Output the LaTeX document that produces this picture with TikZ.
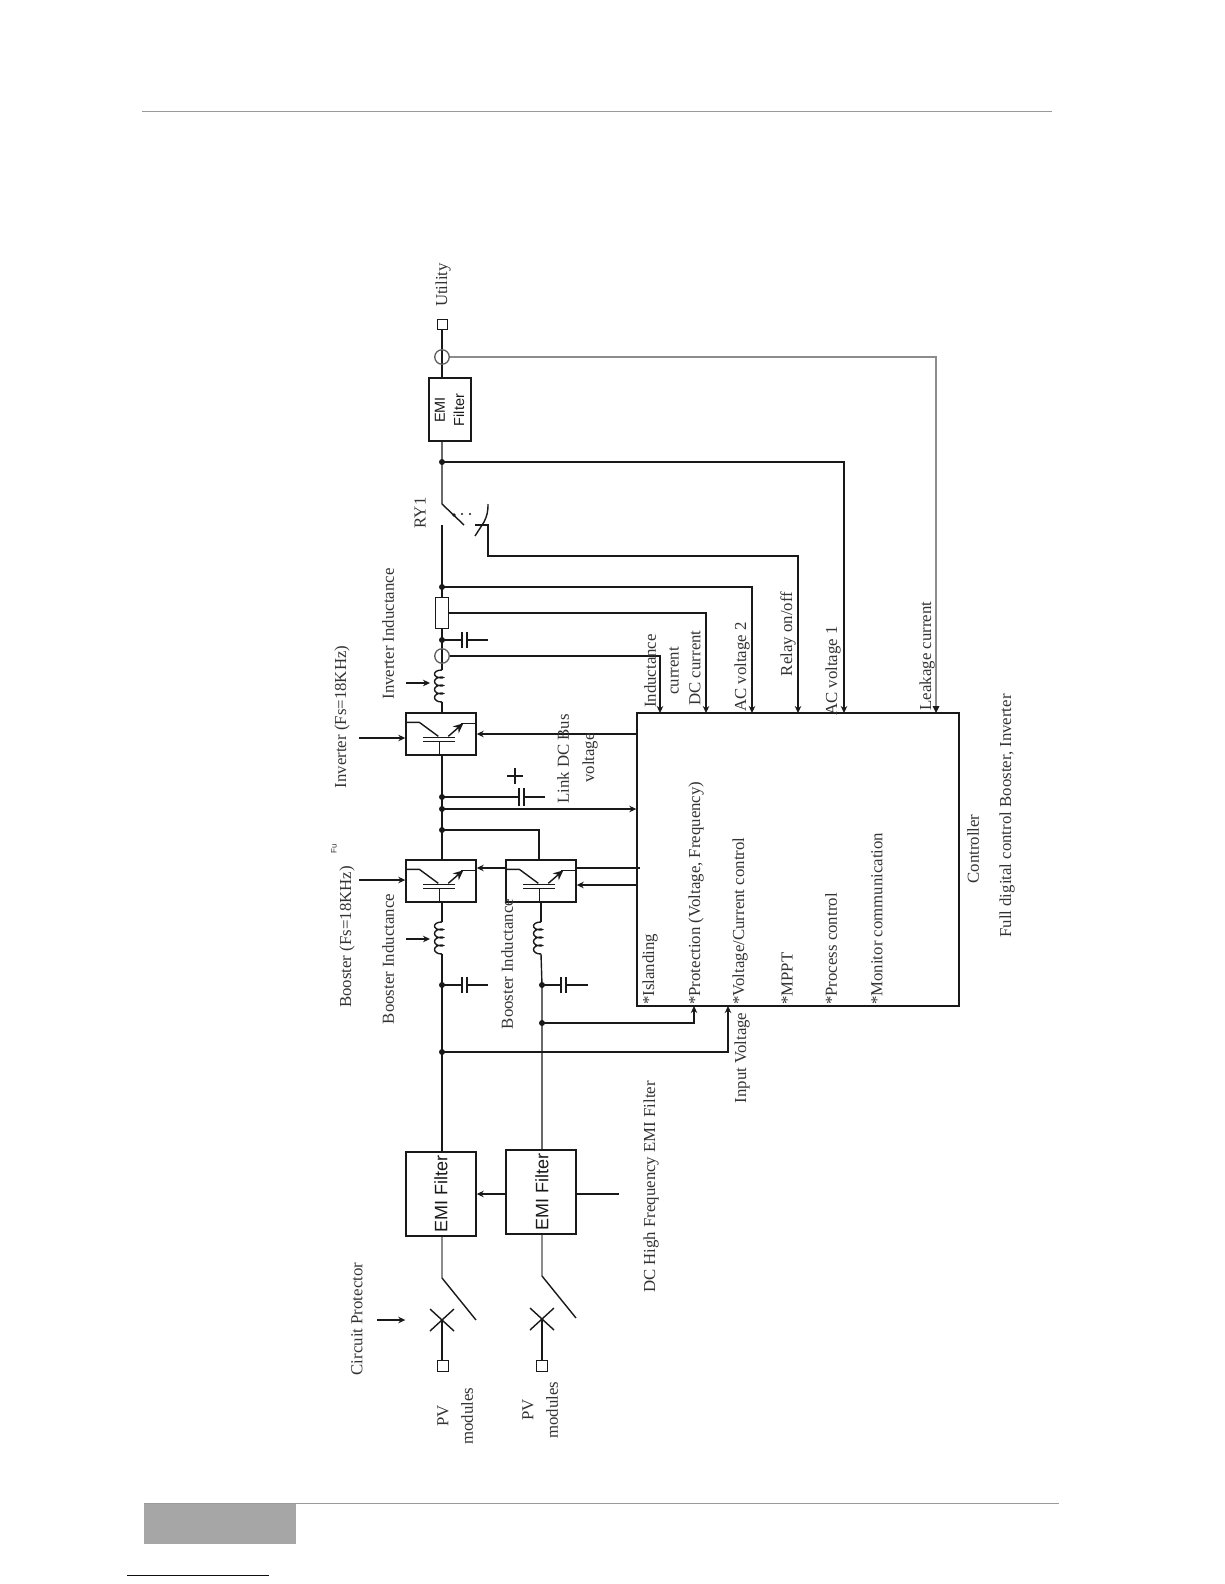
\documentclass[tikz,border=0pt]{standalone}
\usepackage{fontspec}
\setmainfont{Liberation Serif}
\setsansfont{Liberation Sans}
\usetikzlibrary{arrows.meta,calc}
\definecolor{ink}{gray}{0.1}
\definecolor{txt}{gray}{0.2}
\definecolor{greywire}{gray}{0.55}
\tikzset{
  wire/.style={line width=1.4pt,draw=ink},
  gwire/.style={line width=1.5pt,draw=greywire},
  arr/.style={wire,-{Stealth[length=7pt,width=6.5pt]}},
  boxn/.style={draw=ink,line width=1.4pt,inner sep=0pt,fill=white},
  term/.style={boxn,minimum width=10.5pt,minimum height=10.5pt},
  swbox/.style={boxn,minimum width=70pt,minimum height=42pt},
  emibox/.style={boxn,minimum width=70pt,minimum height=84pt},
  lab/.style={rotate=90,inner sep=0pt,text=txt,font=\fontsize{16.8}{18}\selectfont},
  labl/.style={lab,anchor=west},
  emit/.style={rotate=90,inner sep=0pt,text=ink,font=\sffamily\fontsize{18}{20}\selectfont},
  emis/.style={rotate=90,inner sep=0pt,text=ink,font=\sffamily\fontsize{14.5}{16}\selectfont},
  dot/.style={circle,fill=ink,inner sep=0pt,minimum size=6pt},
  ring/.style={circle,draw=ink!70,line width=1.3pt,inner sep=0pt,minimum size=14.5pt},
  pics/transistor/.style={code={
    % coordinates relative to box's upper-left corner
    \draw[wire] (0,10) -- (14,10) -- (33,24);
    \draw[wire] (18,25) -- (50,25);
    \draw[wire] (18,29) -- (50,29);
    \draw[wire] (34,29) -- (34,42);
    \draw[wire,-{Stealth[length=10pt,width=9pt]}] (43,24) -- (58,11);
    \draw[wire] (56,11) -- (70,11);
  }},
  pics/coil/.style={code={
    \draw[wire] (0,0) .. controls (-10,0) and (-10,8) .. (0,8)
      .. controls (1.5,8) and (1.5,7) .. (0,7)
      .. controls (-10,7) and (-10,16) .. (0,16)
      .. controls (1.5,16) and (1.5,15) .. (0,15)
      .. controls (-10,15) and (-10,24) .. (0,24)
      .. controls (1.5,24) and (1.5,23) .. (0,23)
      .. controls (-10,23) and (-10,32) .. (0,32);
  }},
  pics/capr/.style={code={
    \draw[wire] (0,-8) -- (0,8);
    \draw[wire] (5,-8) -- (5,8);
  }}
}
\begin{document}
\begin{tikzpicture}[x=1pt,y=-1pt]
\useasboundingbox (0,0) rectangle (1224,1584);
% page furniture
\fill[gray!70] (144,1503) rectangle (296,1544);
\draw[gray!80,line width=1pt] (142,111.5) -- (1052,111.5);
\draw[gray!80,line width=1pt] (144,1503.5) -- (1059,1503.5);
\draw[blue!50!black,line width=1pt] (127,1575) -- (269,1575);

% === nodes
\node[boxn,minimum width=42pt,minimum height=63pt] (emiS) at (450,409.5) {};
\node[boxn,minimum width=13pt,minimum height=31pt] (res) at (442,613) {};
\node[swbox] (inv) at (441,734) {};
\node[swbox] (boo1) at (441,881) {};
\node[swbox] (boo2) at (541,881) {};
\node[emibox] (emi1) at (441,1194) {};
\node[emibox] (emi2) at (541,1192) {};
\node[boxn,minimum width=322pt,minimum height=293pt] (ctrl) at (798,859.5) {};
\node[term] (util) at (442.5,324.5) {};
\node[term] (pv1) at (443,1366) {};
\node[term] (pv2) at (542,1366) {};

% junctions etc.
\coordinate (ct) at (442,357);
\coordinate (j1) at (442,462);
\coordinate (swA) at (442,504);
\coordinate (swB) at (442,525);
\coordinate (swC) at (464,525);
\coordinate (j2) at (442,587);
\coordinate (j3) at (442,640);
\coordinate (ct2) at (442,656);
\coordinate (lA) at (442,670);
\coordinate (lB) at (442,702);
\coordinate (j4) at (442,797);
\coordinate (j5) at (442,809);
\coordinate (j6) at (442,830);
\coordinate (lC) at (442,922);
\coordinate (lD) at (442,954);
\coordinate (j7) at (442,985);
\coordinate (j8) at (442,1052);
\coordinate (lE) at (541,922);
\coordinate (lF) at (541,954);
\coordinate (j9) at (542,985);
\coordinate (j10) at (542,1023);
\coordinate (b1) at (442,1278);
\coordinate (b2) at (476,1320);
\coordinate (x1) at (442,1320);
\coordinate (b3) at (542,1276);
\coordinate (b4) at (576,1318);
\coordinate (x2) at (542,1319);

% power path
\draw[wire] (ct |- util.south) -- (ct |- emiS.north);
\node[ring] (ring1) at (ct) {};
\draw[wire] (swA |- emiS.south) -- (swA) -- (swC);
\draw[wire] (swB) -- (res.north -| swB);
\draw[wire] (res.south -| j3) -- (lA);
\pic at (lA) {coil};
\node[ring] (ring2) at (ct2) {};
\draw[wire] (lB) -- (inv.north -| lB);
\draw[wire] (inv.south -| j4) -- (boo1.north -| j4);
\draw[wire] (boo1.south -| lC) -- (lC);
\pic at (lC) {coil};
\draw[wire] (lD) -- (emi1.north -| lD);
\draw[wire] (boo2.south -| lE) -- (lE);
\pic at (lE) {coil};
\draw[wire] (lF) -- (j9) -- (emi2.north -| j9);
\draw[gwire] (emi1.south -| b1) -- (b1);
\draw[wire] (b1) -- (b2);
\draw[gwire] (emi2.south -| b3) -- (b3);
\draw[wire] (b3) -- (b4);
\draw[wire] (x1) -- (pv1.north -| x1);
\draw[wire] (x2) -- (pv2.north -| x2);
\draw[wire] (x1)+(-12,-11) -- +(12,11);
\draw[wire] (x1)+(12,-11) -- +(-12,11);
\draw[wire] (x2)+(-12,-11) -- +(12,11);
\draw[wire] (x2)+(12,-11) -- +(-12,11);

% relay
\fill[ink] (454,515) circle (1.8pt);
\fill[ink] (462,514) circle (1.2pt);
\fill[ink] (470,514) circle (1.2pt);
\coordinate (ry0) at (488,504);
\coordinate (ry1) at (475,536);
\coordinate (ry2) at (475,525);
\coordinate (ry3) at (488,525);
\coordinate (ry4) at (488,556);
\draw[wire] (ry0) .. controls (488,512) and (487,516) .. (484,522) -- (ry1);
\draw[arr] (ry2) -- (ry3) -- (ry4) -| (798,713);
% signal lines
\draw[gwire] (ring1.east) -| (936,708);
\fill[ink] (936,713) -- (932.5,706) -- (939.5,706) -- cycle;
\draw[arr] (j1) -| (844,713);
\draw[arr] (j2) -| (752,713);
\draw[arr] (res.east) -| (706,713);
\draw[arr] (ring2.east) -| (660,713);
\draw[arr] (j5) -- (ctrl.west |- j5);
\draw[arr] (ctrl.west |- 0,734) -- (inv.east |- 0,734);
\draw[wire] (j6) -| (539,860);
\draw[wire] (boo2.east |- 0,868) -- (640,868);
\draw[arr] (ctrl.west |- 0,885) -- (boo2.east |- 0,885);
\draw[arr] (boo2.west |- 0,868) -- (boo1.east |- 0,868);
\draw[arr] (j10) -| (694,1006);
\draw[arr] (j8) -| (728,1006);
\draw[arr] (emi2.west |- 0,1194) -- (emi1.east |- 0,1194);
\draw[wire] (emi2.east |- 0,1194) -- (619,1194);

% capacitors
\draw[wire] (j3) -- (462,640); \pic at (462,640) {capr}; \draw[wire] (467,640) -- (488,640);
\draw[wire] (j7) -- (462,985); \pic at (462,985) {capr}; \draw[wire] (467,985) -- (488,985);
\draw[wire] (j9) -- (561,985); \pic at (561,985) {capr}; \draw[wire] (566,985) -- (588,985);
\draw[wire] (j4) -- (519,797); \draw[wire] (519,788) -- (519,806); \draw[wire] (524,788) -- (524,806); \draw[wire] (524,797) -- (545,797);
\draw[wire] (507,776) -- (523,776); \draw[wire] (515,768) -- (515,784);

% switch cells
\pic at (inv.north west) {transistor};
\pic at (boo1.north west) {transistor};
\pic at (boo2.north west) {transistor};

% control arrows into parts
\coordinate (ai0) at (359,738);
\coordinate (ab0) at (359,880);
\coordinate (cp0) at (377,1320);
\draw[arr] (ai0) -- (inv.west |- ai0);
\draw[arr] (ab0) -- (boo1.west |- ab0);
\draw[arr] (cp0) -- (emi1.west |- cp0);
\coordinate (il0) at (406,683);
\coordinate (il1) at (430,683);
\coordinate (bl0) at (406,939);
\coordinate (bl1) at (430,939);
\draw[arr] (il0) -- (il1);
\draw[arr] (bl0) -- (bl1);

% dots
\foreach \p in {j1,j2,j3,j4,j5,j6,j7,j8,j9,j10} \node[dot] at (\p) {};

% sans labels
\node[emis] (t1) at (440,410) {EMI};
\node[emis] (t2) at (459,410) {Filter};
\node[emit] (t3) at (441,1194) {EMI Filter};
\node[emit] (t4) at (542,1192) {EMI Filter};
\node[rotate=90,inner sep=0pt,text=txt,font=\sffamily\fontsize{8}{9}\selectfont] (t5) at (334,849) {Fu};

% serif labels
\node[lab] (a1) at (443,285) {Utility};
\node[lab] (a2) at (420,513) {RY1};
\node[lab] (a3) at (388,634) {Inverter Inductance};
\node[lab] (a4) at (342,717) {Inverter (Fs=18KHz)};
\node[lab] (a5) at (347,937) {Booster (Fs=18KHz)};
\node[lab] (a6) at (388,959) {Booster Inductance};
\node[lab] (a7) at (507,964) {Booster Inductance};
\node[lab] (a8) at (563,759) {Link DC Bus};
\node[lab] (a9) at (590,758) {voltage};
\node[lab] (a10) at (650,671) {Inductance};
\node[lab] (a11) at (674,671) {current};
\node[lab] (a12) at (695,668) {DC current};
\node[lab] (a13) at (742,667) {AC voltage 2};
\node[lab] (a14) at (788,634) {Relay on/off};
\node[lab] (a15) at (833,671) {AC voltage 1};
\node[lab] (a16) at (927,656) {Leakage current};
\node[labl] (c1) at (650,1005) {*Islanding};
\node[labl] (c2) at (696,1005) {*Protection (Voltage, Frequency)};
\node[labl] (c3) at (740,1005) {*Voltage/Current control};
\node[labl] (c4) at (787,1005) {*MPPT};
\node[labl] (c5) at (831,1005) {*Process control};
\node[labl] (c6) at (877,1005) {*Monitor communication};
\node[lab] (a17) at (973,849) {Controller};
\node[lab] (a18) at (1007,816) {Full digital control Booster, Inverter};
\node[lab] (a19) at (742,1058) {Input Voltage};
\node[lab] (a20) at (651,1187) {DC High Frequency EMI Filter};
\node[lab] (a21) at (357,1319) {Circuit Protector};
\node[lab] (a22) at (443,1416) {PV};
\node[lab] (a23) at (467,1416) {modules};
\node[lab] (a24) at (528,1410) {PV};
\node[lab] (a25) at (552,1410) {modules};
\end{tikzpicture}
\end{document}
